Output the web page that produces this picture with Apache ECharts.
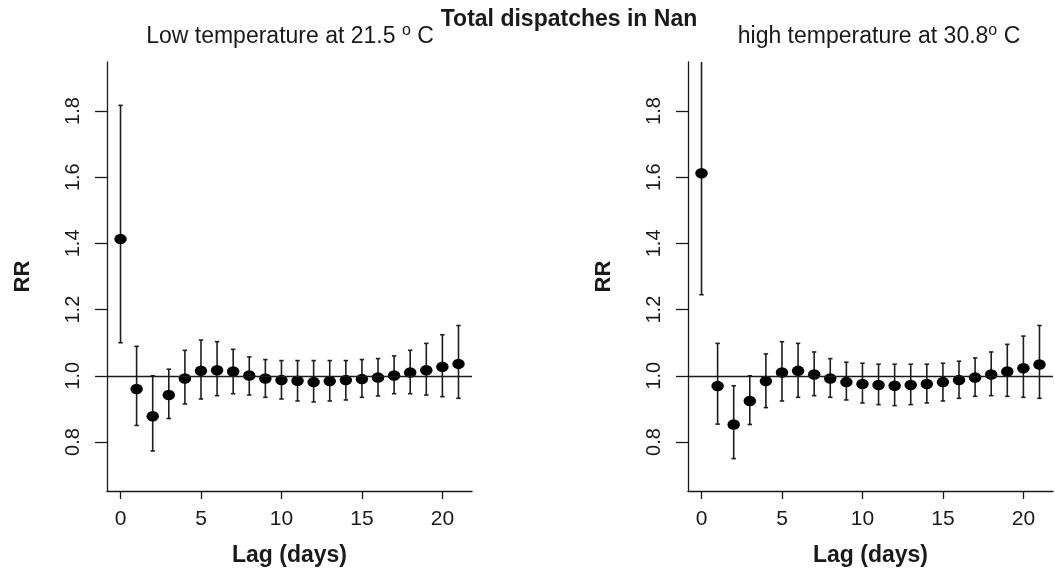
<!DOCTYPE html>
<html>
<head>
<meta charset="utf-8">
<script src="https://cdn.jsdelivr.net/npm/echarts@6/dist/echarts.min.js"></script>
<style>html,body{margin:0;padding:0;background:#fff;}#c{width:1055px;height:572px;}</style>
</head>
<body>
<div id="c"></div>
<script>
// ---- data ----
const lags = [0,1,2,3,4,5,6,7,8,9,10,11,12,13,14,15,16,17,18,19,20,21];
const lowRR    = [1.413,0.960,0.878,0.942,0.992,1.015,1.017,1.013,1.001,0.992,0.987,0.985,0.981,0.984,0.987,0.990,0.995,1.001,1.010,1.017,1.027,1.036];
const lowLower = [1.100,0.850,0.773,0.871,0.915,0.930,0.940,0.946,0.942,0.935,0.930,0.924,0.921,0.924,0.927,0.935,0.939,0.946,0.946,0.942,0.937,0.932];
const lowUpper = [1.817,1.089,1.000,1.020,1.077,1.108,1.103,1.080,1.057,1.049,1.046,1.046,1.046,1.046,1.046,1.049,1.052,1.060,1.077,1.098,1.124,1.152];
const highRR    = [1.612,0.969,0.853,0.924,0.984,1.010,1.015,1.004,0.992,0.981,0.975,0.972,0.970,0.972,0.975,0.981,0.987,0.995,1.004,1.013,1.023,1.034];
const highLower = [1.245,0.854,0.750,0.853,0.904,0.924,0.935,0.940,0.935,0.927,0.918,0.913,0.910,0.913,0.918,0.924,0.932,0.938,0.940,0.938,0.935,0.932];
const highUpper = [2.100,1.098,0.970,1.000,1.066,1.103,1.098,1.072,1.052,1.041,1.038,1.035,1.035,1.035,1.035,1.038,1.044,1.054,1.072,1.095,1.120,1.152];
const xTickLabels = [0,5,10,15,20];
const yTickLabels = [0.8,1.0,1.2,1.4,1.6,1.8];
const mainTitle = 'Total dispatches in Nan';
const leftTitle = ['Low temperature at 21.5 ', 'o', ' C'];
const rightTitle = ['high temperature at 30.8', 'o', ' C'];
const xName = 'Lag (days)';
const yName = 'RR';

// ---- chart ----
const FONT = '"Liberation Sans", Arial, sans-serif';
const INK = '#1a1a1a';
const chart = echarts.init(document.getElementById('c'));

function xAxis(gi) {
  return {
    type: 'value', gridIndex: gi, min: -0.84, max: 21.84,
    name: xName, nameLocation: 'middle', nameGap: 53,
    nameTextStyle: {fontFamily: FONT, fontWeight: 'bold', fontSize: 23, color: INK},
    axisLine: {show: true, onZero: false, lineStyle: {color: INK, width: 1.3}},
    axisTick: {show: true, length: 8, customValues: xTickLabels, lineStyle: {color: INK, width: 1.3}},
    axisLabel: {customValues: xTickLabels, margin: 18, fontFamily: FONT, fontSize: 21, color: INK},
    splitLine: {show: false}
  };
}
function yAxis(gi) {
  return {
    type: 'value', gridIndex: gi, min: 0.652, max: 1.948,
    name: yName, nameLocation: 'middle', nameGap: 73, nameRotate: 90,
    nameTextStyle: {fontFamily: FONT, fontWeight: 'bold', fontSize: 22, color: INK},
    axisLine: {show: true, onZero: false, lineStyle: {color: INK, width: 1.3}},
    axisTick: {show: true, length: 12, customValues: yTickLabels, lineStyle: {color: INK, width: 1.3}},
    axisLabel: {customValues: yTickLabels, rotate: 90, margin: 24, fontFamily: FONT, fontSize: 20, color: INK,
      formatter: v => v.toFixed(1)},
    splitLine: {show: false}
  };
}
function errorSeries(gi, lower, upper) {
  return {
    type: 'custom', xAxisIndex: gi, yAxisIndex: gi, z: 2, silent: true,
    data: lags.map((l, i) => [l, lower[i], upper[i]]),
    renderItem: function (params, api) {
      const cs = params.coordSys;
      const lo = api.coord([api.value(0), api.value(1)]);
      const hi = api.coord([api.value(0), api.value(2)]);
      const top = Math.max(cs.y, hi[1]);
      const bot = Math.min(cs.y + cs.height, lo[1]);
      const x = lo[0], c = 2.2;
      const style = {stroke: '#1e1e1e', lineWidth: 1.6};
      const children = [{type: 'line', shape: {x1: x, y1: bot, x2: x, y2: top}, style: style},
                        {type: 'line', shape: {x1: x - c, y1: bot, x2: x + c, y2: bot}, style: style}];
      if (hi[1] >= cs.y) children.push({type: 'line', shape: {x1: x - c, y1: top, x2: x + c, y2: top}, style: style});
      return {type: 'group', children: children};
    }
  };
}
function pointSeries(gi, vals) {
  return {
    type: 'scatter', xAxisIndex: gi, yAxisIndex: gi, z: 3, silent: true,
    symbol: 'circle', symbolSize: [12.5, 10.5],
    itemStyle: {color: '#000', opacity: 1},
    data: lags.map((l, i) => [l, vals[i]]),
    markLine: {silent: true, symbol: 'none', label: {show: false},
      lineStyle: {color: INK, width: 1.3, type: 'solid', opacity: 1},
      data: [{yAxis: 1}]}
  };
}
function subTitle(parts, x) {
  return {
    text: '{n|' + parts[0] + '}{s|' + parts[1] + '}{n|' + parts[2] + '}',
    left: x, top: 23, textAlign: 'center', padding: 0,
    textStyle: {fontWeight: 'normal', rich: {
      n: {fontFamily: FONT, fontWeight: 'normal', fontSize: 23, color: INK, lineHeight: 25, verticalAlign: 'bottom'},
      s: {fontFamily: FONT, fontWeight: 'normal', fontSize: 16, color: INK, lineHeight: 25, verticalAlign: 'top'}
    }}
  };
}

chart.setOption({
  animation: false,
  backgroundColor: '#fff',
  title: [
    {text: mainTitle, left: 569, top: 8, textAlign: 'center', padding: 0,
     textStyle: {fontFamily: FONT, fontWeight: 'bold', fontSize: 23, color: INK}},
    subTitle(leftTitle, 290),
    subTitle(rightTitle, 879)
  ],
  grid: [
    {left: 107, top: 62, width: 365, height: 430},
    {left: 688, top: 62, width: 365, height: 430}
  ],
  xAxis: [xAxis(0), xAxis(1)],
  yAxis: [yAxis(0), yAxis(1)],
  series: [
    errorSeries(0, lowLower, lowUpper), pointSeries(0, lowRR),
    errorSeries(1, highLower, highUpper), pointSeries(1, highRR)
  ]
});
</script>
</body>
</html>
